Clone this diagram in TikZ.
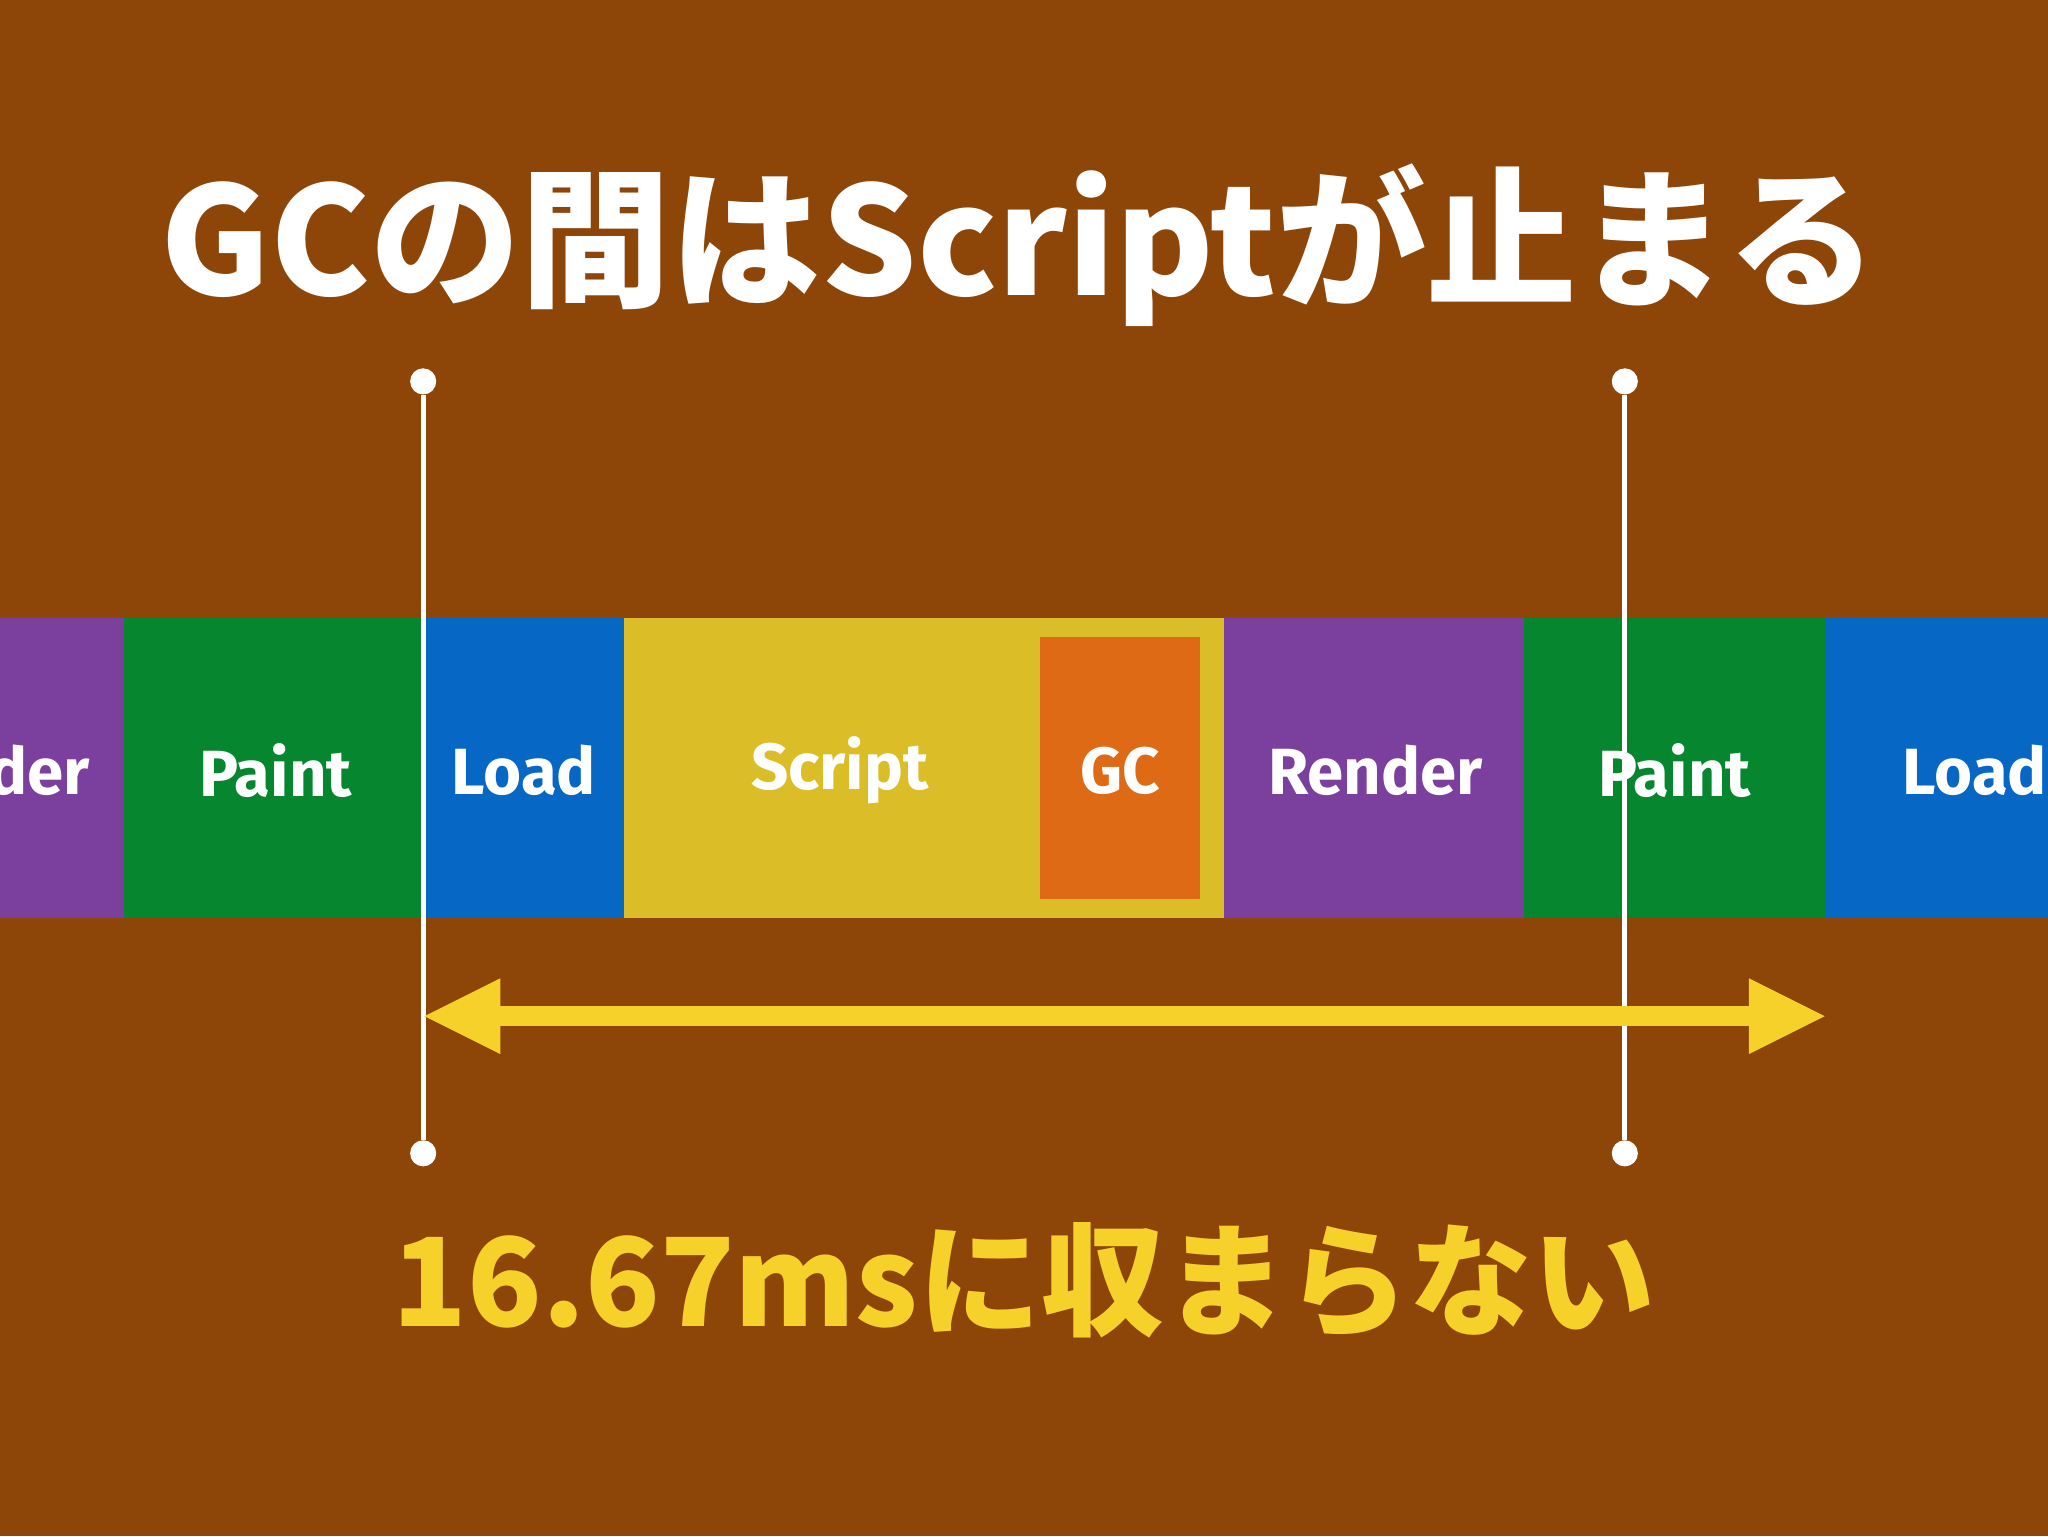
\documentclass[tikz,border=0pt]{standalone}
\usepackage{fontspec}
\setmainfont{Fira Sans}
\newfontfamily\cjk{Noto Sans CJK JP}
\definecolor{bg}{HTML}{8E4508}
\definecolor{pur}{HTML}{7B3F9E}
\definecolor{grn}{HTML}{05862F}
\definecolor{blu}{HTML}{0767C4}
\definecolor{ylw}{HTML}{DBBE27}
\definecolor{org}{HTML}{DE6A16}
\definecolor{arw}{HTML}{F5D12A}
\tikzset{seg/.style={inner sep=0pt,outer sep=0pt,anchor=north west},
lbl/.style={text=white,font=\fontsize{50}{50}\selectfont\bfseries,anchor=center},
dot/.style={circle,fill=white,inner sep=0pt,minimum size=20pt}}
\begin{document}
\begin{tikzpicture}[x=1pt,y=-1pt]
\fill[bg] (0,0) rectangle (1568,1176);
\useasboundingbox (0,0) rectangle (1568,1176);
\fill[pur] (0,473) rectangle (95,703);
\fill[grn] (95,473) rectangle (324,703);
\fill[blu] (324,473) rectangle (478,703);
\fill[ylw] (478,473) rectangle (937,703);
\fill[org] (796,488) rectangle (919,688);
\fill[pur] (937,473) rectangle (1167,703);
\fill[grn] (1167,473) rectangle (1397,703);
\fill[blu] (1397,473) rectangle (1568,703);
\node[lbl] (t1) at (30,590) {der};
\node[lbl] (t2) at (211,590) {Paint};
\node[lbl] (t3) at (401,590) {Load};
\node[lbl] (t4) at (643,590) {Script};
\node[lbl] (t5) at (858,590) {GC};
\node[lbl] (t6) at (1053,590) {Render};
\node[lbl] (t7) at (1282,590) {Paint};
\node[lbl] (t8) at (1512,590) {Load};
\node[text=white,font=\cjk\bfseries\fontsize{115}{115}\selectfont] (title) at (780,188) {GCの間はScriptが止まる};
\node[dot] (a1) at (324,292) {};
\node[dot] (a2) at (324,883) {};
\node[dot] (b1) at (1244,292) {};
\node[dot] (b2) at (1244,883) {};
\draw[white,line width=4pt] (a1) -- (a2);
\draw[white,line width=4pt] (b1) -- (b2);
\coordinate (L) at (325,778);
\coordinate (R) at (1397,778);
\draw[arw,line width=15pt] (380,778) -- (1340,778);
\fill[arw] (L) -- (383,749) -- (383,807) -- cycle;
\fill[arw] (R) -- (1339,749) -- (1339,807) -- cycle;
\node[text=arw,font=\cjk\bfseries\fontsize{94}{94}\selectfont] (sub) at (784,980) {16.67msに収まらない};
\end{tikzpicture}
\end{document}
